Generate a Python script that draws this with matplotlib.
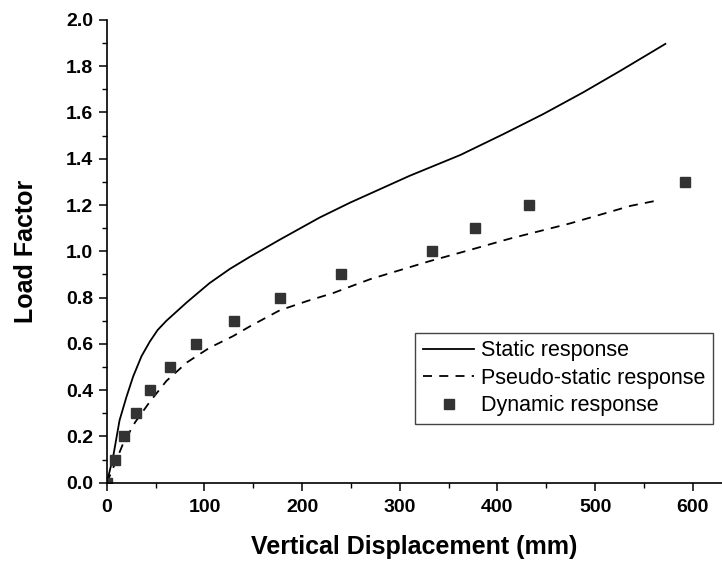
import numpy as np
import matplotlib
matplotlib.use("Agg")
import matplotlib.pyplot as plt
from matplotlib.ticker import MultipleLocator

plt.rcParams['font.family'] = ["Liberation Sans", "DejaVu Sans"]

# static response (solid line)
static_x = [0, 6.5, 13, 20, 27, 35.5, 44, 52, 61, 82, 105, 126, 146, 177, 218,
            249, 310, 362, 406, 447, 488, 526, 572]
static_y = [0.0, 0.114, 0.27, 0.37, 0.46, 0.547, 0.61, 0.66, 0.70, 0.78, 0.862,
            0.924, 0.975, 1.05, 1.146, 1.21, 1.326, 1.416, 1.506, 1.593, 1.687,
            1.78, 1.896]

# pseudo-static response (dashed line)
pseudo_x = [0, 8, 16.7, 28.7, 44, 61, 82, 105, 129, 147, 177, 205, 232, 254,
            270, 331, 372, 413, 474, 515, 536, 562]
pseudo_y = [0.0, 0.08, 0.17, 0.26, 0.35, 0.44, 0.52, 0.583, 0.633, 0.677,
            0.745, 0.785, 0.82, 0.855, 0.88, 0.958, 1.006, 1.055, 1.12, 1.17,
            1.196, 1.218]

# dynamic response (squares)
dyn_x = [0, 8, 17.5, 29.5, 44, 64.5, 91, 130, 177, 240, 333, 377, 432, 592]
dyn_y = [0.0, 0.1, 0.2, 0.3, 0.4, 0.5, 0.6, 0.7, 0.8, 0.9, 1.0, 1.1, 1.2, 1.3]

fig = plt.figure(figsize=(7.22, 5.66), dpi=100)
ax = fig.add_axes([0.148, 0.147, 0.852, 0.818])

ax.plot(static_x, static_y, "-", color="black", lw=1.3, label="Static response")
ax.plot(pseudo_x, pseudo_y, "--", color="black", lw=1.3, dashes=(5, 4),
        label="Pseudo-static response")
ax.plot(dyn_x, dyn_y, "s", color="#333333", ms=7, ls="none",
        label="Dynamic response")

ax.set_xlim(0, 630)
ax.set_ylim(0, 2.0)
ax.xaxis.set_major_locator(MultipleLocator(100))
ax.xaxis.set_minor_locator(MultipleLocator(50))
ax.yaxis.set_major_locator(MultipleLocator(0.2))
ax.yaxis.set_minor_locator(MultipleLocator(0.1))
ax.yaxis.set_major_formatter(plt.FormatStrFormatter("%.1f"))

ax.spines["top"].set_visible(False)
ax.spines["right"].set_visible(False)
for s in ["left", "bottom"]:
    ax.spines[s].set_linewidth(1.2)

ax.tick_params(which="major", direction="out", length=6, width=1.1, pad=4,
               labelsize=14)
ax.tick_params(axis="x", which="major", pad=6)
ax.tick_params(which="minor", direction="out", length=3.5, width=1.0)
for lab in ax.get_xticklabels() + ax.get_yticklabels():
    lab.set_fontweight("bold")

ax.set_xlabel("Vertical Displacement (mm)", fontsize=18, fontweight="bold",
              labelpad=13)
ax.set_ylabel("Load Factor", fontsize=18, fontweight="bold", labelpad=20)

leg = ax.legend(loc="upper right", bbox_to_anchor=(0.985, 0.324),
                borderaxespad=0, fontsize=15.5, fancybox=False,
                edgecolor="#444444", framealpha=1, handlelength=2.4,
                handletextpad=0.3, labelspacing=0.3, borderpad=0.35)
leg.get_frame().set_linewidth(1.0)

fig.savefig("out.png", dpi=100)
